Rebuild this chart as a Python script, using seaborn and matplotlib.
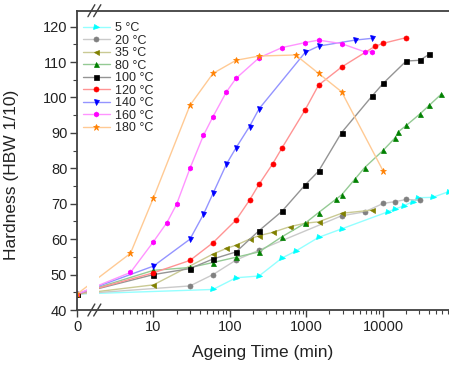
import numpy as np
import pandas as pd
import matplotlib
matplotlib.use("Agg")
import matplotlib.pyplot as plt
import matplotlib.colors as mcolors
from matplotlib.ticker import FixedLocator, NullFormatter
import seaborn as sns

# ── Données (temps en min, dureté HBW 1/10) ─────────────────────────────────
t_5 = [0, 60, 120, 240, 480, 720, 1440, 2880, 11520, 14400, 18720, 24480, 28800, 44640, 72000]
h_5 = [44.5, 45.8, 49.1, 49.6, 54.7, 56.6, 60.5, 62.9, 67.7, 68.5, 69.4, 70.6, 71.7, 71.8, 73.4]

t_20 = [0, 30, 60, 120, 240, 2880, 5760, 10080, 14400, 20160, 30240]
h_20 = [44.5, 46.8, 50.0, 54.1, 56.9, 66.6, 67.7, 70.1, 70.6, 71.2, 71.0]

t_35 = [0, 10, 60, 90, 120, 180, 240, 360, 600, 960, 1440, 2880, 7200]
h_35 = [44.5, 47.1, 55.8, 57.4, 58.3, 60.0, 61.0, 61.9, 63.5, 64.5, 64.9, 67.3, 68.2]

t_80 = [0, 10, 30, 60, 120, 240, 480, 960, 1440, 2400, 2880, 4320, 5760,
        10080, 14400, 15840, 20160, 30240, 40320, 57600]
h_80 = [44.5, 51.2, 52.0, 53.4, 54.9, 56.4, 60.7, 64.5, 67.5, 71.2, 72.5, 77.0, 80.2,
        85.1, 88.6, 90.3, 92.1, 95.3, 97.8, 100.9]

t_100 = [0, 10, 30, 60, 120, 240, 480, 960, 1440, 2880, 7200, 10080, 20160, 30240, 40320]
h_100 = [44.5, 50.0, 51.7, 54.4, 56.4, 62.4, 67.9, 75.3, 79.2, 90.1, 100.4, 104.0, 110.3, 110.5, 112.2]

t_120 = [0, 10, 30, 60, 120, 180, 240, 360, 480, 960, 1440, 2880, 7800, 10080, 20160]
h_120 = [44.5, 50.5, 54.0, 59.0, 65.4, 71.0, 75.5, 81.2, 85.8, 96.5, 103.5, 108.6, 114.4, 115.3, 116.9]

t_140 = [0, 10, 30, 45, 60, 90, 120, 180, 240, 960, 1440, 4320, 7200]
h_140 = [44.5, 52.4, 60.0, 67.0, 72.9, 81.2, 85.8, 91.8, 96.8, 112.7, 114.5, 116.2, 116.7]

t_160 = [0, 5, 10, 15, 20, 30, 45, 60, 90, 120, 240, 480, 960, 1440, 2880, 5760, 7200]
h_160 = [44.5, 50.6, 59.3, 64.7, 69.8, 80.0, 89.3, 94.6, 101.6, 105.4, 111.2, 114.1,
         115.5, 116.2, 115.2, 112.9, 112.9]

t_180 = [0, 5, 10, 30, 60, 120, 240, 720, 1440, 2880, 10080]
h_180 = [44.5, 56.0, 71.7, 97.8, 106.8, 110.5, 111.7, 112.0, 106.8, 101.6, 79.2]

labels  = ["5 °C", "20 °C", "35 °C", "80 °C", "100 °C", "120 °C", "140 °C", "160 °C", "180 °C"]
times   = [t_5, t_20, t_35, t_80, t_100, t_120, t_140, t_160, t_180]
hardness = [h_5, h_20, h_35, h_80, h_100, h_120, h_140, h_160, h_180]
colors  = ["#00ffff", "#808080", "#808000", "#008000", "#000000",
           "#ff0000", "#0000ff", "#ff00ff", "#ff8000"]
markers = [">", "o", "<", "^", "s", "o", "v", "h", "*"]

x_major = [0, 10, 100, 1000, 10000]
x_minor = [k * 10 ** n for n in range(0, 5) for k in range(2, 10)
           if 3 <= k * 10 ** n <= 70000]

# ── Figure ──────────────────────────────────────────────────────────────────
sns.set_style("ticks")
plt.rcParams["font.family"] = ["Liberation Sans", "DejaVu Sans"]

fig = plt.figure(figsize=(4.49, 3.69), dpi=100)
ax = fig.add_axes([77 / 449, 1 - 310 / 369, 1 - 77 / 449, (310 - 10.7) / 369])


def lighten(c, f=0.42):
    # mélange avec du blanc (lignes pâles façon Origin)
    r, g, b = mcolors.to_rgb(c)
    return (r * f + (1 - f), g * f + (1 - f), b * f + (1 - f))


for lab, t, h, c, m in zip(labels, times, hardness, colors, markers):
    df = pd.DataFrame({"t": t, "h": h})
    sns.lineplot(data=df, x="t", y="h", ax=ax, label=lab,
                 color=lighten(c), linewidth=1.0,
                 marker=m, markersize=5 if m == "*" else 3.6,
                 markerfacecolor=c, markeredgecolor=c, markeredgewidth=0.5)

# axe x : 0 linéaire puis échelle log (rupture entre 0 et 2)
ax.set_xscale("symlog", linthresh=2, linscale=0.2709)
ax.set_xlim(0, 73000)
ax.set_ylim(40, 124.5)

ax.xaxis.set_major_locator(FixedLocator(x_major))
ax.xaxis.set_minor_locator(FixedLocator(x_minor))
ax.set_xticklabels([str(v) for v in x_major])
ax.xaxis.set_minor_formatter(NullFormatter())
ax.set_yticks(np.arange(40, 121, 10))
ax.yaxis.set_minor_locator(FixedLocator(np.arange(45, 125, 10)))

# rupture d'axe : on masque les courbes et on trace les //
ax.axvspan(0.9, 1.9, color="white", zorder=2.2, lw=0)
trans = ax.get_xaxis_transform()
for yb in (0.0, 1.0):
    for xb in (0.95, 1.45):
        ax.plot([xb, xb + 0.6], [yb - 0.02, yb + 0.02], transform=trans,
                color="#404040", lw=1.0, clip_on=False, zorder=5)

for side in ("top", "bottom", "left"):
    ax.spines[side].set_color("#404040")
    ax.spines[side].set_linewidth(1.3)
ax.spines["right"].set_visible(False)

ax.tick_params(axis="both", which="major", direction="out", length=5, width=1,
               color="#404040", labelsize=10.5, labelcolor="#222222", pad=2)
ax.tick_params(axis="both", which="minor", direction="out", length=3, width=0.8,
               color="#404040")

ax.set_xlabel("Ageing Time (min)", fontsize=12.5, color="#222222", labelpad=8)
ax.set_ylabel("Hardness (HBW 1/10)", fontsize=12.5, color="#222222")
ax.yaxis.set_label_coords(-0.155, 0.45)

ax.legend(loc="upper left", bbox_to_anchor=(0.0, 0.982), frameon=False,
          fontsize=9, handlelength=2.1, handletextpad=0.45, labelspacing=0.04,
          borderaxespad=0.3, borderpad=0.2)

fig.savefig("out.png", dpi=100)
